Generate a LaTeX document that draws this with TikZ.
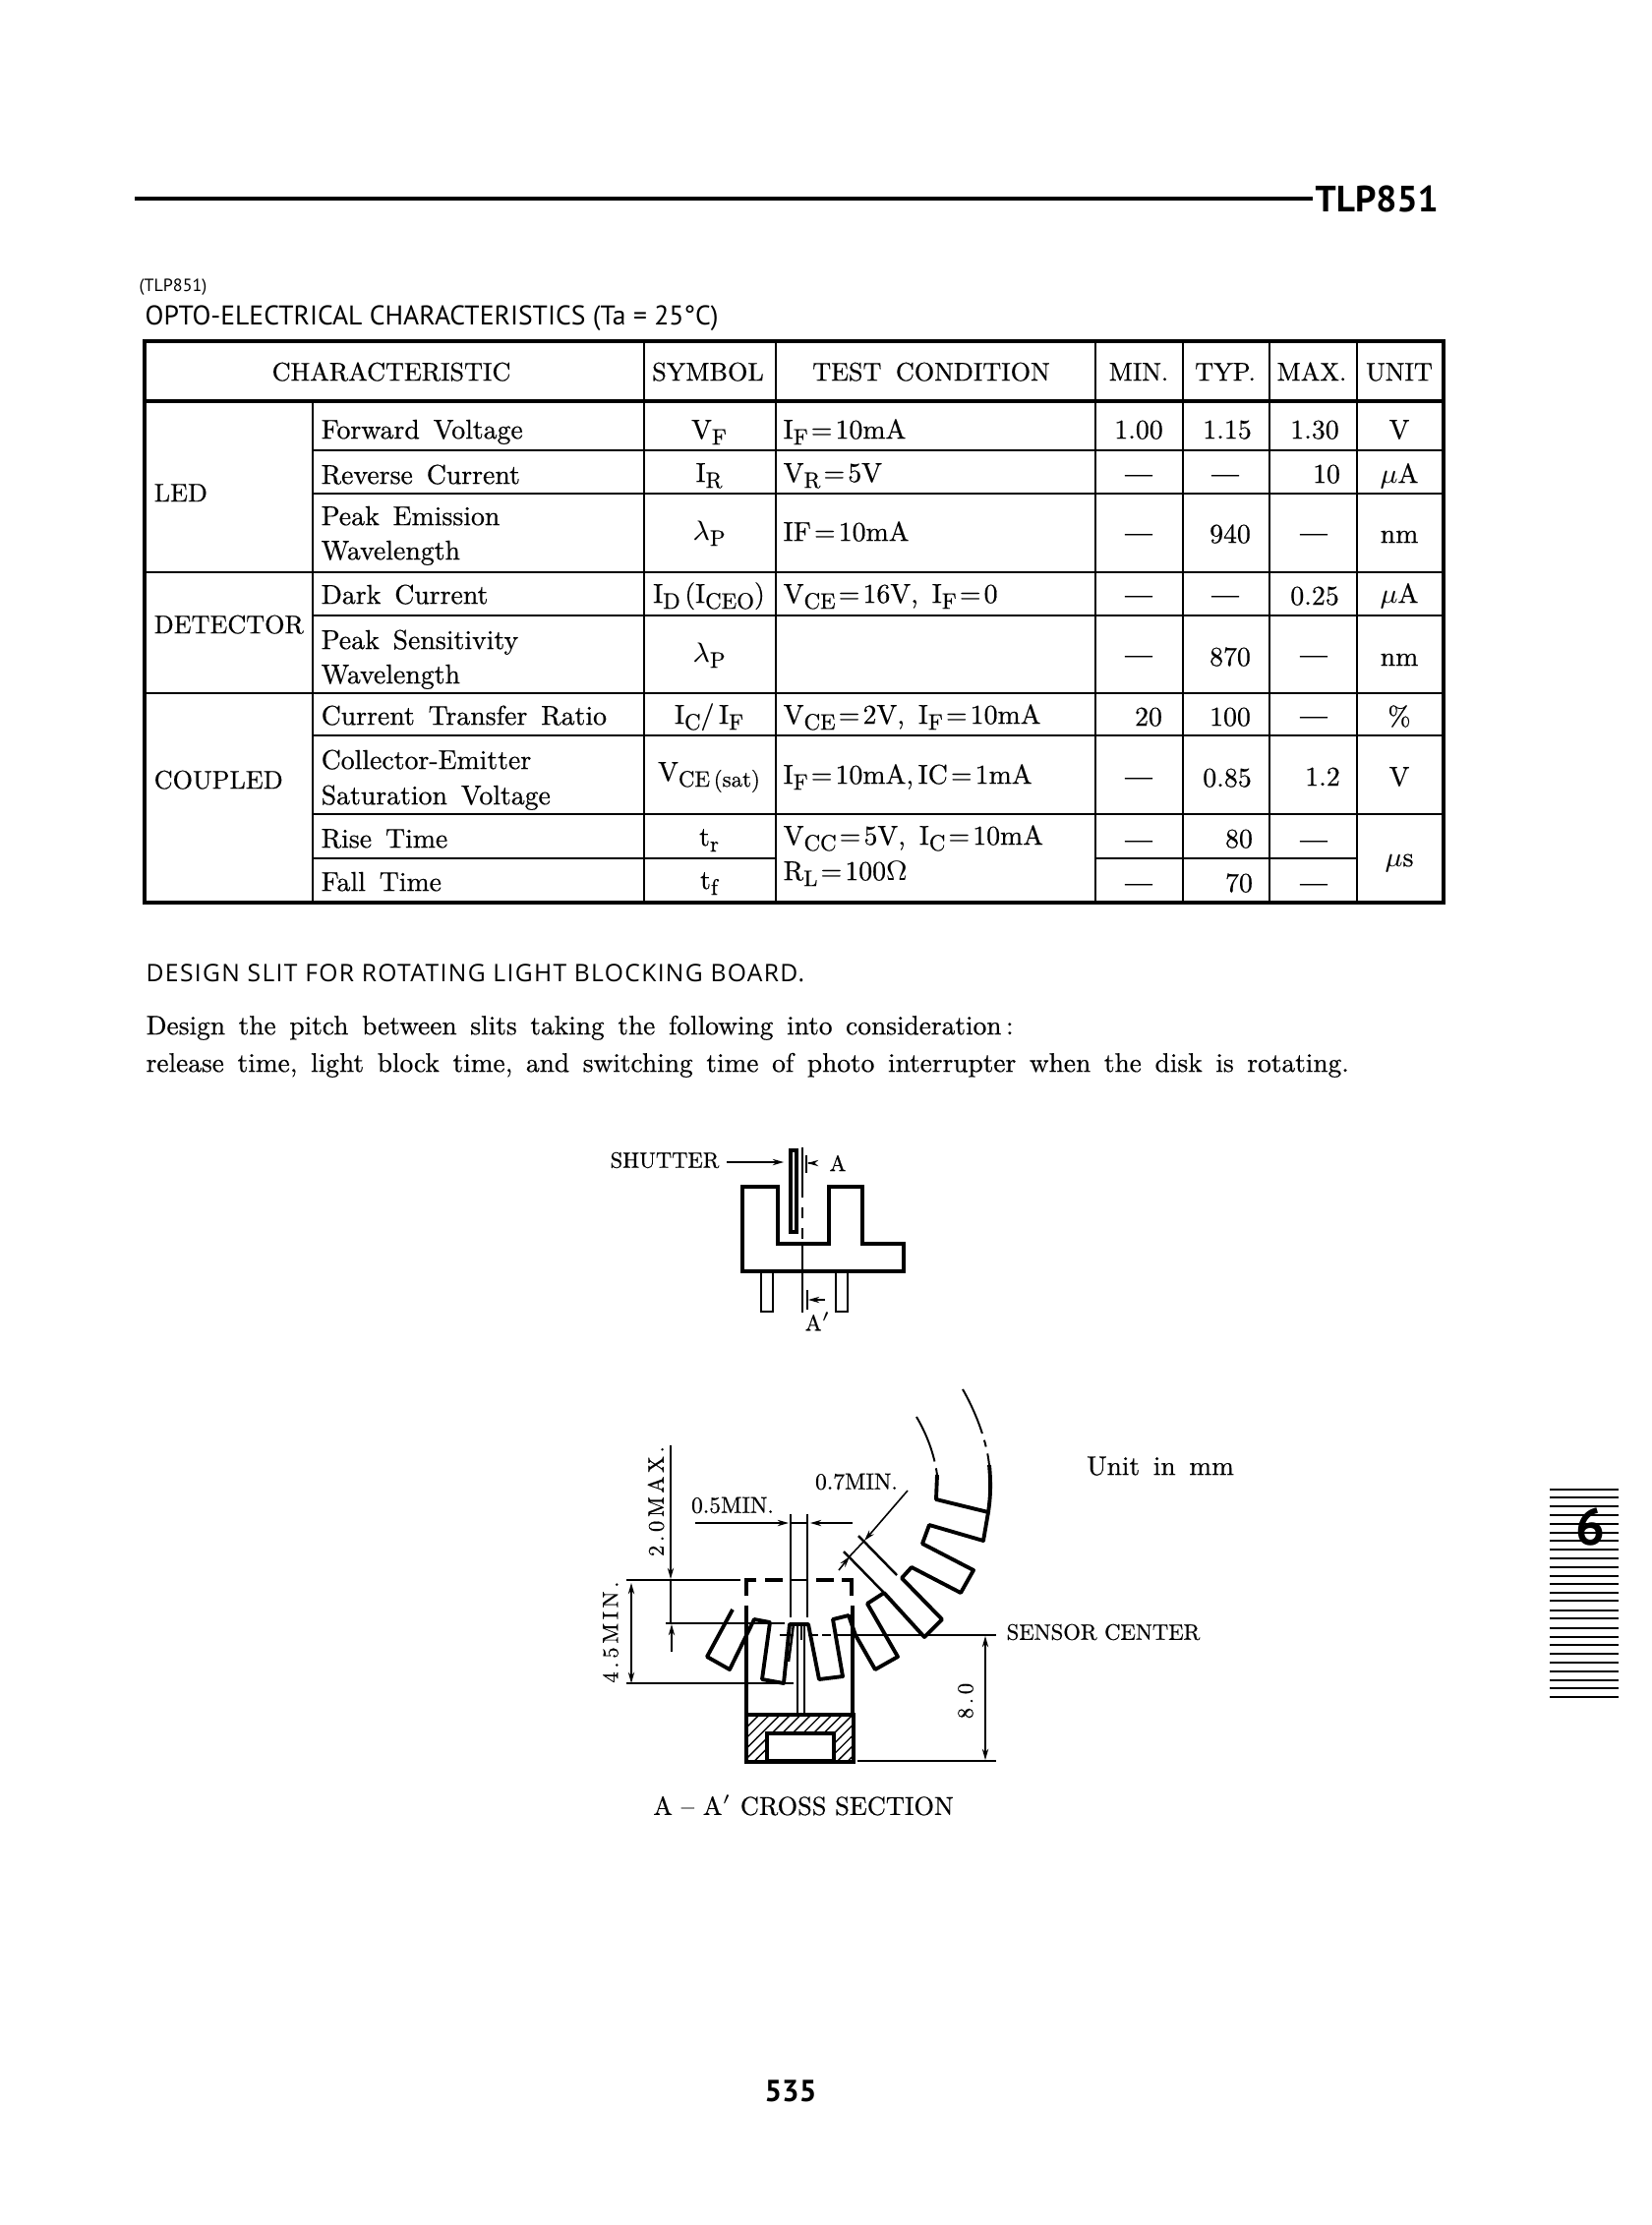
\documentclass[tikz,border=0pt]{standalone}
\usepackage{fontspec}
\usetikzlibrary{arrows.meta,patterns}
\setmainfont{lmroman10-regular.otf}[FakeBold=0.5]
\newfontfamily\gothic{PT Sans}
\newfontfamily\opensans{Open Sans}
\newcommand{\tabfont}{\fontsize{7.9}{9}\selectfont\spaceskip=0.5em}
\newcommand{\hdrfont}{\fontsize{7.45}{9}\selectfont\spaceskip=0.55em}
\newcommand{\notefont}{\fontsize{7.78}{9}\selectfont\spaceskip=0.5em}
\newcommand{\dimfont}{\fontsize{6.65}{8}\selectfont}
\newcommand{\sbs}[1]{\raisebox{-1.7pt}{\fontsize{6.5}{7}\selectfont #1}}
\newcommand{\eq}{\kern0.9pt=\kern0.9pt}
\newcommand{\nil}{{\addfontfeature{FakeBold=2.5}---}}
\tikzset{
  txt/.style={inner sep=0pt,text height=5.2pt,text depth=0pt,font=\tabfont},
  ltxt/.style={txt,anchor=west},
  hdr/.style={txt,font=\hdrfont},
  lhdr/.style={hdr,anchor=west},
  note/.style={ltxt,font=\notefont},
  dimtxt/.style={inner sep=0pt,font=\dimfont},
  outerln/.style={line width=1.2pt},
  gridln/.style={line width=0.7pt},
  partln/.style={line width=1.1pt},
  dimln/.style={line width=0.45pt},
  dimarrow/.style={dimln,-{Stealth[length=3.2pt,width=1.8pt]}},
  tabln/.style={line width=0.75pt}
}
\begin{document}
\begin{tikzpicture}[x=0.01cm,y=-0.01cm]
\useasboundingbox (0,0) rectangle (1680,2263);
% page head
\draw[line width=1.4pt] (137,202) -- (1335,202);
\draw (1337,202) node[anchor=west,inner sep=0pt] (headtype) {\gothic\bfseries\fontsize{10.6}{12}\selectfont TLP851};
\draw (141,292) node[anchor=west,inner sep=0pt] (subtype) {\gothic\fontsize{5.1}{6}\selectfont (TLP851)};
\draw (147,324) node[anchor=west,inner sep=0pt] (tabtitle) {\gothic\fontsize{7.85}{9}\selectfont OPTO-ELECTRICAL CHARACTERISTICS (Ta = 25°C)};
% table frame
\draw[outerln] (147,347) rectangle (1468,918);
\draw[outerln] (147,408) -- (1468,408);
\draw[gridln] (318,408) -- (318,918);
\draw[gridln] (655,347) -- (655,918);
\draw[gridln] (789,347) -- (789,918);
\draw[gridln] (1114,347) -- (1114,918);
\draw[gridln] (1203,347) -- (1203,918);
\draw[gridln] (1291,347) -- (1291,918);
\draw[gridln] (1380,347) -- (1380,918);
\draw[gridln] (318,458) -- (1468,458);
\draw[gridln] (318,502) -- (1468,502);
\draw[gridln] (147,582) -- (1468,582);
\draw[gridln] (318,626) -- (1468,626);
\draw[gridln] (147,705) -- (1468,705);
\draw[gridln] (318,748) -- (1468,748);
\draw[gridln] (318,828) -- (1468,828);
\draw[gridln] (318,873) -- (789,873);
\draw[gridln] (1114,873) -- (1380,873);
% table head
\draw (398,378) node[hdr] (hchar) {CHARACTERISTIC};
\draw (720,378) node[hdr] (hsym) {SYMBOL};
\draw (947,378) node[hdr] (hcond) {TEST CONDITION};
\draw (1158,378) node[hdr] (hmin) {MIN.};
\draw (1246,378) node[hdr] (htyp) {TYP.};
\draw (1334,378) node[hdr] (hmax) {MAX.};
\draw (1423,378) node[hdr] (hunit) {UNIT};
% groups
\draw (156,501) node[lhdr] (gled) {LED};
\draw (156,635) node[lhdr] (gdet) {DETECTOR};
\draw (156,793) node[lhdr] (gcpl) {COUPLED};
% characteristic column
\draw (326,437) node[ltxt] (c1) {Forward Voltage};
\draw (326,483) node[ltxt] (c2) {Reverse Current};
\draw (326,525) node[ltxt] (c3a) {Peak Emission};
\draw (326,560) node[ltxt] (c3b) {Wavelength};
\draw (326,605) node[ltxt] (c4) {Dark Current};
\draw (326,651) node[ltxt] (c5a) {Peak Sensitivity};
\draw (326,686) node[ltxt] (c5b) {Wavelength};
\draw (326,728) node[ltxt] (c6) {Current Transfer Ratio};
\draw (326,773) node[ltxt] (c7a) {Collector-Emitter};
\draw (326,809) node[ltxt] (c7b) {Saturation Voltage};
\draw (326,853) node[ltxt] (c8) {Rise Time};
\draw (326,897) node[ltxt] (c9) {Fall Time};
% symbol column
\draw (721,437) node[txt] (s1) {V\sbs{F}};
\draw (721,481) node[txt] (s2) {I\sbs{R}};
\draw (721,540) node[txt] (s3) {$\lambda$\sbs{P}};
\draw (721,604) node[txt] (s4) {I\sbs{D}\,(I\sbs{CEO})};
\draw (721,664) node[txt] (s5) {$\lambda$\sbs{P}};
\draw (721,727) node[txt] (s6) {I\sbs{C}/\,I\sbs{F}};
\draw (721,785) node[txt] (s7) {V\sbs{CE\,(sat)}};
\draw (721,851) node[txt] (s8) {t\sbs{r}};
\draw (721,895) node[txt] (s9) {t\sbs{f}};
% condition column
\draw (796,437) node[ltxt] (t1) {I\sbs{F}\eq 10mA};
\draw (796,481) node[ltxt] (t2) {V\sbs{R}\eq 5V};
\draw (796,541) node[ltxt] (t3) {IF\eq 10mA};
\draw (796,604) node[ltxt] (t4) {V\sbs{CE}\eq 16V, I\sbs{F}\eq 0};
\draw (796,727) node[ltxt] (t6) {V\sbs{CE}\eq 2V, I\sbs{F}\eq 10mA};
\draw (796,788) node[ltxt] (t7) {I\sbs{F}\eq 10mA,\,IC\eq 1mA};
\draw (796,850) node[ltxt] (t8) {V\sbs{CC}\eq 5V, I\sbs{C}\eq 10mA};
\draw (796,886) node[ltxt] (t9) {R\sbs{L}\eq 100$\Omega$};
% min column
\draw (1158,437) node[txt] (n1) {1.00};
\draw (1158,482) node[txt] (n2) {\nil};
\draw (1158,542) node[txt] (n3) {\nil};
\draw (1158,605) node[txt] (n4) {\nil};
\draw (1158,666) node[txt] (n5) {\nil};
\draw (1168,729) node[txt] (n6) {20};
\draw (1158,790) node[txt] (n7) {\nil};
\draw (1158,854) node[txt] (n8) {\nil};
\draw (1158,898) node[txt] (n9) {\nil};
% typ column
\draw (1248,437) node[txt] (y1) {1.15};
\draw (1246,482) node[txt] (y2) {\nil};
\draw (1251,543) node[txt] (y3) {940};
\draw (1246,605) node[txt] (y4) {\nil};
\draw (1251,668) node[txt] (y5) {870};
\draw (1251,729) node[txt] (y6) {100};
\draw (1248,791) node[txt] (y7) {0.85};
\draw (1260,853) node[txt] (y8) {80};
\draw (1260,898) node[txt] (y9) {70};
% max column
\draw (1337,437) node[txt] (m1) {1.30};
\draw (1349,482) node[txt] (m2) {10};
\draw (1336,542) node[txt] (m3) {\nil};
\draw (1337,606) node[txt] (m4) {0.25};
\draw (1336,666) node[txt] (m5) {\nil};
\draw (1336,728) node[txt] (m6) {\nil};
\draw (1345,790) node[txt] (m7) {1.2};
\draw (1336,854) node[txt] (m8) {\nil};
\draw (1336,898) node[txt] (m9) {\nil};
% unit column
\draw (1423,437) node[txt] (u1) {V};
\draw (1423,482) node[txt] (u2) {$\mu$A};
\draw (1423,543) node[txt] (u3) {nm};
\draw (1423,604) node[txt] (u4) {$\mu$A};
\draw (1423,668) node[txt] (u5) {nm};
\draw (1423,729) node[txt] (u6) {\%};
\draw (1423,790) node[txt] (u7) {V};
\draw (1423,872) node[txt] (u8) {$\mu$s};
% notes
\draw (148,990) node[anchor=west,inner sep=0pt] (slitnote) {\opensans\addfontfeature{LetterSpace=5.5}\fontsize{7}{8}\selectfont DESIGN SLIT FOR ROTATING LIGHT BLOCKING BOARD.};
\draw (148,1043) node[note] (pitch1) {Design the pitch between slits taking the following into consideration\,:};
\draw (148,1081) node[note] (pitch2) {release time, light block time, and switching time of photo interrupter when the disk is rotating.};
% shutter sketch
\draw (676,1180) node[dimtxt,font=\fontsize{6.4}{8}\selectfont] (shutterlbl) {SHUTTER};
\coordinate (shuttertip) at (797,1182);
\draw[dimarrow,shorten <=18pt] (shutterlbl.center |- shuttertip) -- (shuttertip);
\draw[line width=1.1pt] (804,1170) rectangle (810,1253);
\draw[dimln] (816,1167) -- (816,1207);
\draw[dimln,dashed] (816,1207) -- (816,1265);
\draw[dimln] (816,1265) -- (816,1335);
\draw[partln] (755,1207) -- (791,1207) -- (791,1265) -- (843,1265) -- (843,1207) -- (877,1207) -- (877,1265) -- (919,1265) -- (919,1293) -- (755,1293) -- cycle;
\draw[gridln] (774,1293) -- (774,1334) -- (786,1334) -- (786,1293);
\draw[gridln] (850,1293) -- (850,1334) -- (862,1334) -- (862,1293);
\draw[gridln] (820,1175) -- (820,1193);
\draw (852,1183) node[dimtxt,font=\fontsize{6.4}{8}\selectfont] (lbla) {A};
\coordinate (atip) at (821,1183);
\draw[dimarrow,shorten <=6pt] (lbla) -- (atip);
\draw[gridln] (821,1312) -- (821,1332);
\draw (832,1344) node[dimtxt,font=\fontsize{6.4}{8}\selectfont] (lblap) {A$'$};
\coordinate (aptip) at (822,1322);
\coordinate (aptail) at (839,1322);
\draw[dimarrow] (aptail) -- (aptip);
% section: dimensions
\draw (667,1527) node[dimtxt,rotate=90,font=\fontsize{6.4}{8}\selectfont] (max20) {2\,.\,0\,M\,A\,X\,.};
\draw (621,1660) node[dimtxt,rotate=90,font=\fontsize{6.4}{8}\selectfont] (min45) {4\,.\,5\,M\,I\,N\,.};
\draw (745,1531) node[dimtxt] (min05) {0.5MIN.};
\draw (871,1507) node[dimtxt] (min07) {0.7MIN.};
\draw[dimarrow] (682,1470) -- (682,1606);
\draw[dimln] (682,1606) -- (682,1651);
\draw[dimarrow] (683,1680) -- (683,1652);
\draw[dimln,{Stealth[length=3.2pt,width=1.8pt]}-{Stealth[length=3.2pt,width=1.8pt]}] (642,1610) -- (642,1712);
\draw[dimln,{Stealth[length=3.2pt,width=1.8pt]}-{Stealth[length=3.2pt,width=1.8pt]}] (1002,1664) -- (1002,1790);
\draw[gridln] (637,1607) -- (753,1607);
\draw[gridln] (677,1651) -- (798,1651);
\draw[gridln] (637,1712) -- (807,1712);
\draw[gridln] (872,1791) -- (1013,1791);
% slit width
\draw[gridln] (804,1540) -- (804,1645);
\draw[gridln] (821,1540) -- (821,1645);
\draw[gridln] (804,1607) -- (821,1607);
\draw[dimln] (804,1549) -- (821,1549);
\coordinate (slitl) at (802,1549);
\coordinate (slitr) at (824,1549);
\draw[dimarrow] (707,1549) -- (slitl);
\draw[dimarrow] (867,1549) -- (slitr);
% slit pitch
\draw[dimarrow] (923,1516) -- (879,1567);
\draw[dimln] (879,1567) -- (863,1584);
\draw[dimarrow] (853,1597) -- (864,1583);
\draw[gridln] (873,1562) -- (912,1602);
\draw[gridln] (858,1578) -- (899,1620);
% dashed sensor box
\draw[partln] (759,1623) -- (759,1607) -- (769,1607);
\draw[partln] (778,1607) -- (796,1607);
\draw[partln] (830,1607) -- (848,1607);
\draw[partln] (856,1607) -- (866,1607) -- (866,1623);
\draw[partln] (759,1633) -- (759,1744);
\draw[partln] (867,1633) -- (867,1744);
% sensor centre
\draw[gridln] (793,1663) -- (807,1663);
\draw[gridln] (822,1663) -- (832,1663);
\draw[gridln] (836,1663) -- (845,1663);
\draw[line width=0.8pt] (848,1663) -- (1013,1663);
\draw (1023,1660) node[dimtxt,anchor=west,font=\fontsize{6.44}{8}\selectfont] (sensorlbl) {SENSOR CENTER};
\draw (982,1730) node[dimtxt,rotate=90,font=\fontsize{6.4}{8}\selectfont] (dim80) {8\,.\,0};
% disk outline
\draw[partln,line join=round] (953,1500) -- (952,1525) -- (1005,1538) -- (1000,1567) -- (945,1551) -- (938,1570) -- (990,1597) -- (977,1620) -- (927,1594) -- (917,1605) -- (958,1647) -- (940,1665) -- (899,1620) -- (882,1631) -- (913,1685) -- (890,1698) -- (870,1663) -- (863,1643) -- (847,1647) -- (857,1705) -- (833,1708) -- (822,1652) -- (803,1652) -- (797,1712) -- (775,1708) -- (783,1650) -- (767,1647) -- (742,1698) -- (719,1685) -- (745,1637);
\draw[line width=0.55pt,dash pattern=on 14pt off 2pt on 2pt off 2pt] (932,1441) .. controls (942,1458) and (950,1478) .. (953,1500);
\draw[line width=0.55pt,dash pattern=on 14pt off 2pt on 2pt off 2pt] (979,1413) .. controls (990,1432) and (1003,1462) .. (1006,1490);
\draw[partln] (1006,1490) .. controls (1008,1510) and (1007,1525) .. (1005,1538);
% fan at disk centre
\draw[gridln] (807,1652) -- (802,1690);
\draw[gridln] (811,1652) -- (811,1743);
\draw[gridln] (815,1652) -- (815,1668);
\draw[gridln] (818,1652) -- (818,1743);
% base
\draw[pattern=north east lines,partln] (759,1744) rectangle (868,1792);
\draw[partln,fill=white] (780,1763) rectangle (848,1791);
\draw (817,1836) node[dimtxt,font=\fontsize{7.5}{9}\selectfont] (seclbl) {A -- A$'$ CROSS SECTION};
\draw (1180,1491) node[note,anchor=center] (unitlbl) {Unit in mm};
% page number
\draw (804,2127) node[inner sep=0pt] (pageno) {\gothic\bfseries\fontsize{8.8}{10}\selectfont 535};
% section tab
\draw[tabln] (1576,1515) -- (1646,1515);
\draw[tabln] (1576,1523) -- (1646,1523);
\draw[tabln] (1576,1532) -- (1646,1532);
\draw[tabln] (1576,1541) -- (1646,1541);
\draw[tabln] (1576,1550) -- (1646,1550);
\draw[tabln] (1576,1559) -- (1646,1559);
\draw[tabln] (1576,1567) -- (1646,1567);
\draw[tabln] (1576,1576) -- (1646,1576);
\draw[tabln] (1576,1585) -- (1646,1585);
\draw[tabln] (1576,1594) -- (1646,1594);
\draw[tabln] (1576,1603) -- (1646,1603);
\draw[tabln] (1576,1611) -- (1646,1611);
\draw[tabln] (1576,1620) -- (1646,1620);
\draw[tabln] (1576,1628) -- (1646,1628);
\draw[tabln] (1576,1638) -- (1646,1638);
\draw[tabln] (1576,1646) -- (1646,1646);
\draw[tabln] (1576,1656) -- (1646,1656);
\draw[tabln] (1576,1665) -- (1646,1665);
\draw[tabln] (1576,1673) -- (1646,1673);
\draw[tabln] (1576,1682) -- (1646,1682);
\draw[tabln] (1576,1691) -- (1646,1691);
\draw[tabln] (1576,1700) -- (1646,1700);
\draw[tabln] (1576,1709) -- (1646,1709);
\draw[tabln] (1576,1717) -- (1646,1717);
\draw[tabln] (1576,1726) -- (1646,1726);
\draw (1617,1553) node[inner sep=0pt] (tabsix) {\gothic\bfseries\fontsize{15}{17}\selectfont 6};
\end{tikzpicture}
\end{document}
